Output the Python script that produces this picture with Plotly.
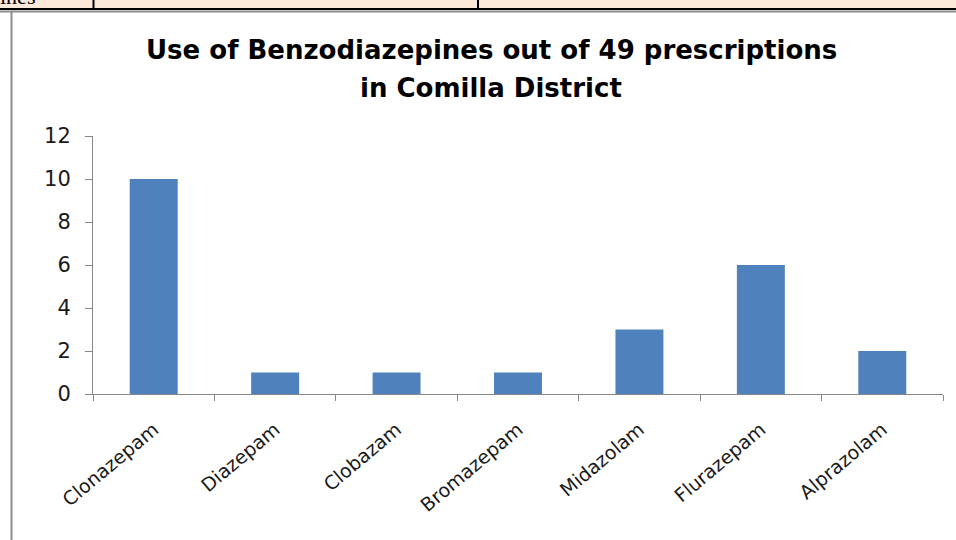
import plotly.graph_objects as go

categories = ["Clonazepam", "Diazepam", "Clobazam", "Bromazepam", "Midazolam", "Flurazepam", "Alprazolam"]
values = [10, 1, 1, 1, 3, 6, 2]
y_ticks = [0, 2, 4, 6, 8, 10, 12]
title_lines = ["Use of Benzodiazepines out of 49 prescriptions", "in Comilla District"]

W, H = 956, 540
L, R, T, B = 93, 13, 136, 146
pw = W - L - R
ph = H - T - B

def px(x):
    return (x - L) / pw

def py(y):
    return (H - B - y) / ph

fig = go.Figure()
fig.add_trace(go.Bar(x=categories, y=values, marker=dict(color="#4F81BD", line=dict(width=0)),
                     width=0.395))

shapes = [
    # top peach strip (document table)
    dict(type="rect", xref="paper", yref="paper", x0=px(-5), x1=px(W + 5), y0=py(-5), y1=py(9),
         fillcolor="#FCE9DA", line=dict(width=0), layer="below"),
    dict(type="line", xref="paper", yref="paper", x0=px(0), x1=px(W), y0=py(9), y1=py(9),
         line=dict(color="#000000", width=2)),
    dict(type="line", xref="paper", yref="paper", x0=px(93.5), x1=px(93.5), y0=py(0), y1=py(9),
         line=dict(color="#000000", width=2)),
    dict(type="line", xref="paper", yref="paper", x0=px(478), x1=px(478), y0=py(0), y1=py(9),
         line=dict(color="#000000", width=2)),
    # chart frame
    dict(type="line", xref="paper", yref="paper", x0=px(0), x1=px(W), y0=py(11.5), y1=py(11.5),
         line=dict(color="#8C8C8C", width=2)),
    dict(type="line", xref="paper", yref="paper", x0=px(11.5), x1=px(11.5), y0=py(11), y1=py(H),
         line=dict(color="#8C8C8C", width=2)),
]

annotations = [
    dict(text=title_lines[0], xref="paper", yref="paper", x=px(491), y=py(50), xanchor="center",
         yanchor="middle", showarrow=False,
         font=dict(family="DejaVu Sans", size=26, color="#000000", weight="bold")),
    dict(text=title_lines[1], xref="paper", yref="paper", x=px(491), y=py(88), xanchor="center",
         yanchor="middle", showarrow=False,
         font=dict(family="DejaVu Sans", size=26, color="#000000", weight="bold")),
    dict(text="ines", xref="paper", yref="paper", x=px(-2), y=py(11), xanchor="left",
         yanchor="bottom", showarrow=False,
         font=dict(family="Liberation Serif", size=22, color="#000000")),
]

fig.update_layout(
    width=W, height=H,
    margin=dict(l=L, r=R, t=T, b=B, autoexpand=False),
    paper_bgcolor="white", plot_bgcolor="white",
    showlegend=False,
    shapes=shapes,
    annotations=annotations,
    font=dict(family="DejaVu Sans", color="#000000"),
)
fig.update_xaxes(showline=True, linecolor="#878787", linewidth=1, ticks="outside", tickson="boundaries",
                 ticklen=6, tickcolor="#878787", tickangle=-40, tickfont=dict(size=19, color="#1A1A1A"),
                 ticklabelstandoff=16, showgrid=False, automargin=False)
fig.update_yaxes(range=[0, 12], tickvals=y_ticks, showline=True, linecolor="#878787", linewidth=1,
                 ticks="outside", ticklen=7, tickcolor="#878787", tickfont=dict(size=21, color="#1A1A1A"),
                 ticklabelstandoff=10, showgrid=False, zeroline=False, automargin=False)

fig.write_html("out.html", config={"displayModeBar": False},
               post_script="document.body.style.margin='0';")
